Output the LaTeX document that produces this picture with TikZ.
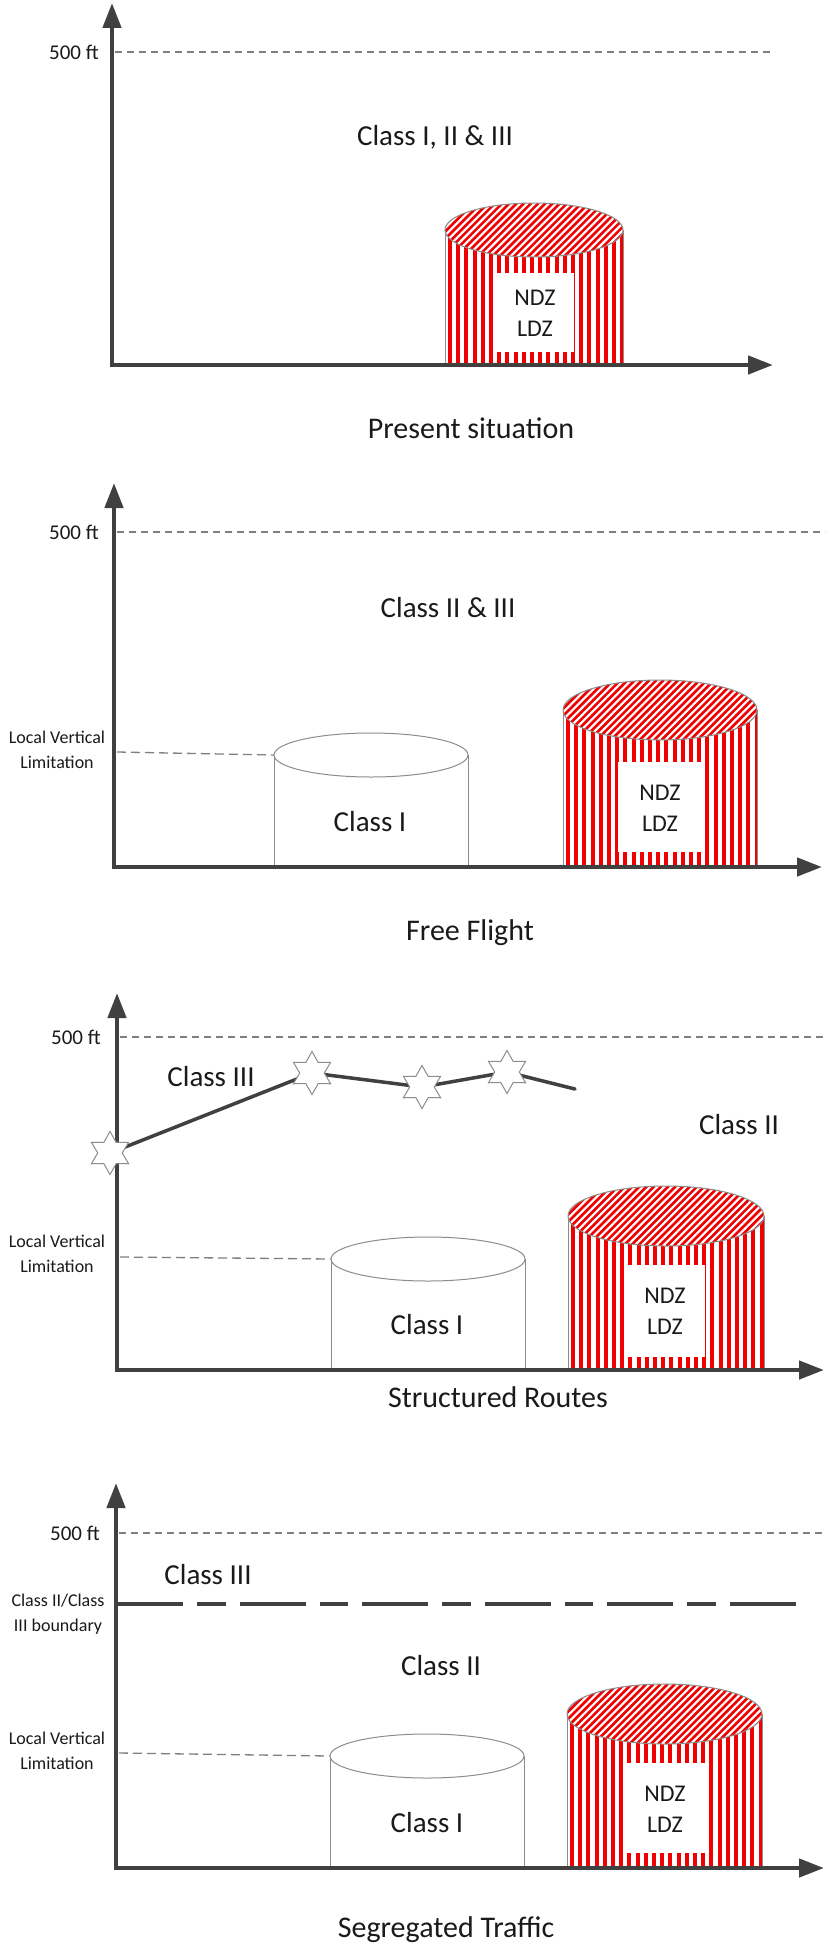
\documentclass[tikz,border=0pt]{standalone}
\usepackage{fontspec}
\setmainfont{Carlito}
\usetikzlibrary{arrows.meta,shapes.geometric}
\definecolor{axisgray}{HTML}{404040}
\definecolor{dashgray}{HTML}{7F7F7F}
\definecolor{outlinegray}{HTML}{8C8C8C}
\definecolor{stripered}{RGB}{240,0,0}
\definecolor{textblack}{HTML}{1A1A1A}

\tikzset{
  axisline/.style={draw=axisgray, line width=4.5pt, line join=miter,
    {Triangle[length=25pt,width=18pt]}-{Triangle[length=25pt,width=18pt]}},
  ftline/.style={draw=dashgray, line width=1.3pt, dash pattern=on 7pt off 5pt},
  lvlline/.style={draw=dashgray, line width=1.3pt, dash pattern=on 9pt off 5pt},
  cylline/.style={draw=outlinegray, line width=1pt},
  bigtxt/.style={text=textblack, inner sep=0pt, font=\fontsize{29}{35}\selectfont},
  titletxt/.style={text=textblack, inner sep=0pt, font=\fontsize{30}{36}\selectfont},
  zonetxt/.style={text=textblack, inner sep=0pt, align=center, font=\fontsize{24}{31}\selectfont},
  ftlabel/.style={text=textblack, inner sep=0pt, anchor=east, font=\fontsize{21}{25}\selectfont},
  smalltxt/.style={text=textblack, inner sep=0pt, align=center, font=\fontsize{18}{25}\selectfont},
  star6/.style={star, star points=6, star point ratio=1.75, minimum size=43pt, inner sep=0pt,
    draw=outlinegray, line width=1pt, fill=white},
  route/.style={draw=axisgray, line width=3.5pt, line join=round, line cap=round},
  boundary/.style={draw=axisgray, line width=4.5pt, dash pattern=on 66pt off 14pt on 28.5pt off 14pt}
}

% red striped cylinder: #1 xl, #2 xr, #3 cy, #4 ry, #5 axis y, #6 box l, #7 box r, #8 box t, #9 box b
\newcommand\redcyl[9]{%
  \pgfmathsetmacro\rcx{(#1+#2)/2}%
  \pgfmathsetmacro\rrx{(#2-#1)/2}%
  \fill[white] (#1,#3) rectangle (#2,#5);
  \begin{scope}
    \clip (#1,#3) rectangle (#2,#5);
    \foreach \k in {0,...,24} {\fill[stripered] ({#1+3+\k*8.2},#3) rectangle ({#1+7+\k*8.2},#5);}
  \end{scope}
  \fill[white] (#6,#8) rectangle (#7,#9);
  \draw[cylline] (#1,#3) -- (#1,#5) (#2,#3) -- (#2,#5);
  \fill[white] (\rcx,#3) ellipse [x radius=\rrx pt, y radius=#4pt];
  \begin{scope}
    \clip (\rcx,#3) ellipse [x radius=\rrx pt, y radius=#4pt];
    \foreach \k in {0,...,40} {\draw[stripered, line width=2.6pt] ({#1-2*#4+\k*7.2},{#3+#4}) -- ({#1+\k*7.2},{#3-#4});}
  \end{scope}
  \draw[cylline] (\rcx,#3) ellipse [x radius=\rrx pt, y radius=#4pt];
}

% white cylinder: #1 xl, #2 xr, #3 cy, #4 ry, #5 axis y
\newcommand\whitecyl[5]{%
  \pgfmathsetmacro\wcx{(#1+#2)/2}%
  \pgfmathsetmacro\wrx{(#2-#1)/2}%
  \fill[white] (#1,#3) rectangle (#2,#5);
  \draw[cylline] (#1,#3) -- (#1,#5) (#2,#3) -- (#2,#5);
  \draw[cylline, fill=white] (\wcx,#3) ellipse [x radius=\wrx pt, y radius=#4pt];
}

\begin{document}
\begin{tikzpicture}[x=1pt,y=-1pt]
\path[use as bounding box, fill=white] (0,0) rectangle (827,1951);

% ================= Panel 1: Present situation =================
\coordinate (p1top) at (112,3);
\coordinate (p1o) at (112,365);
\coordinate (p1end) at (773,365);
\coordinate (p1fa) at (115,52);
\coordinate (p1fb) at (775,52);
\draw[ftline] (p1fa) -- (p1fb);
\redcyl{445}{623}{230}{27}{365}{496}{574}{273}{352}
\draw[axisline] (p1top) -- (p1o) -- (p1end);
\node[ftlabel] (p1ft) at (99,52) {500 ft};
\node[bigtxt] (p1cls) at (435,137) {Class I, II \& III};
\node[zonetxt] (p1zone) at (535,313) {NDZ\\LDZ};
\node[titletxt] (p1title) at (471,428) {Present situation};

% ================= Panel 2: Free Flight =================
\coordinate (p2top) at (114,483);
\coordinate (p2o) at (114,867);
\coordinate (p2end) at (822,867);
\coordinate (p2fa) at (117,532);
\coordinate (p2fb) at (825,532);
\coordinate (p2la) at (117,752);
\coordinate (p2lb) at (274,755);
\draw[ftline] (p2fa) -- (p2fb);
\draw[lvlline] (p2la) -- (p2lb);
\whitecyl{274}{468}{755}{22}{867}
\redcyl{563}{757}{710}{30}{867}{618}{702}{762}{852}
\draw[axisline] (p2top) -- (p2o) -- (p2end);
\node[ftlabel] (p2ft) at (99,532) {500 ft};
\node[bigtxt] (p2cls) at (448,608) {Class II \& III};
\node[smalltxt] (p2lvl) at (57,750) {Local Vertical\\Limitation};
\node[bigtxt] (p2c1) at (370,822) {Class I};
\node[zonetxt] (p2zone) at (660,808) {NDZ\\LDZ};
\node[titletxt] (p2title) at (470,933) {Free Flight};

% ================= Panel 3: Structured Routes =================
\coordinate (p3top) at (117,993);
\coordinate (p3o) at (117,1370);
\coordinate (p3end) at (824,1370);
\coordinate (p3fa) at (120,1037);
\coordinate (p3fb) at (825,1037);
\coordinate (p3la) at (120,1257);
\coordinate (p3lb) at (331,1259);
\draw[ftline] (p3fa) -- (p3fb);
\draw[lvlline] (p3la) -- (p3lb);
\whitecyl{331}{525}{1259}{22}{1370}
\redcyl{568}{764}{1216}{30}{1370}{626}{705}{1265}{1357}
\draw[axisline] (p3top) -- (p3o) -- (p3end);
\coordinate (c1) at (110,1153);
\coordinate (c2) at (312,1073);
\coordinate (c3) at (422,1087);
\coordinate (c4) at (507,1072);
\coordinate (rend) at (575,1089);
\draw[route] (c1) -- (c2) -- (c3) -- (c4) -- (rend);
\node[star6] (s1) at (c1) {};
\node[star6] (s2) at (c2) {};
\node[star6] (s3) at (c3) {};
\node[star6] (s4) at (c4) {};
\node[ftlabel] (p3ft) at (101,1037) {500 ft};
\node[bigtxt] (p3c3) at (211,1077) {Class III};
\node[bigtxt] (p3c2) at (739,1125) {Class II};
\node[smalltxt] (p3lvl) at (57,1254) {Local Vertical\\Limitation};
\node[bigtxt] (p3c1) at (427,1325) {Class I};
\node[zonetxt] (p3zone) at (665,1311) {NDZ\\LDZ};
\node[titletxt] (p3title) at (498,1397) {Structured Routes};

% ================= Panel 4: Segregated Traffic =================
\coordinate (p4top) at (116,1483);
\coordinate (p4o) at (116,1868);
\coordinate (p4end) at (824,1868);
\coordinate (p4fa) at (119,1533);
\coordinate (p4fb) at (825,1533);
\coordinate (p4ba) at (117,1604);
\coordinate (p4bb) at (798,1604);
\coordinate (p4la) at (119,1753);
\coordinate (p4lb) at (330,1756);
\draw[ftline] (p4fa) -- (p4fb);
\draw[boundary] (p4ba) -- (p4bb);
\draw[lvlline] (p4la) -- (p4lb);
\whitecyl{330}{524}{1756}{22}{1868}
\redcyl{567}{762}{1714}{30}{1868}{625}{705}{1763}{1853}
\draw[axisline] (p4top) -- (p4o) -- (p4end);
\node[ftlabel] (p4ft) at (100,1533) {500 ft};
\node[bigtxt] (p4c3) at (208,1575) {Class III};
\node[smalltxt] (p4bl) at (58,1614) {Class II/Class\\III boundary};
\node[bigtxt] (p4c2) at (441,1666) {Class II};
\node[smalltxt] (p4lvl) at (57,1751) {Local Vertical\\Limitation};
\node[bigtxt] (p4c1) at (427,1823) {Class I};
\node[zonetxt] (p4zone) at (665,1809) {NDZ\\LDZ};
\node[titletxt] (p4title) at (446,1930) {Segregated Traffic};
\end{tikzpicture}
\end{document}
